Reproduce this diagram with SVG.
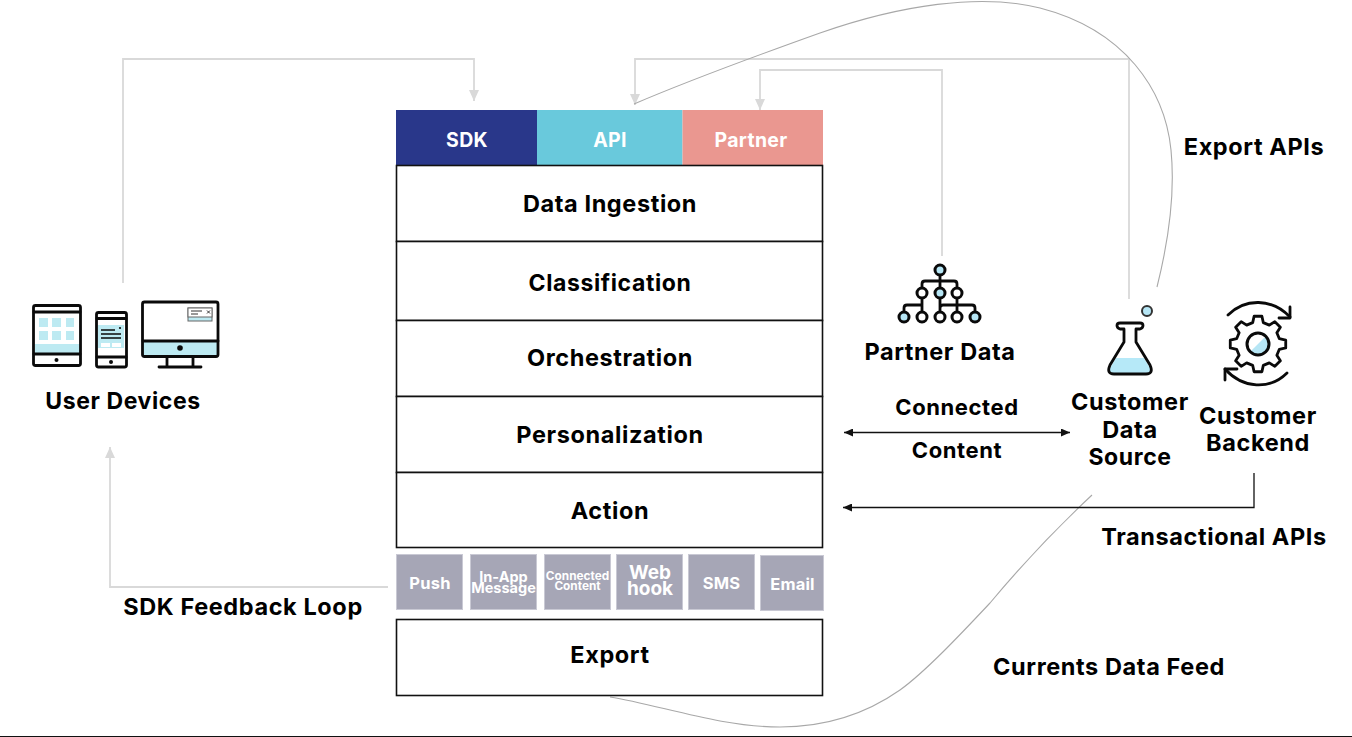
<svg xmlns="http://www.w3.org/2000/svg" width="1352" height="737" viewBox="0 0 1352 737">
<style>
text{font-family:Inter,"Liberation Sans",sans-serif;font-weight:700;text-anchor:middle;fill:#000}
.wt{fill:#fff}
.lbl{font-size:23.500px;letter-spacing:.6px}
.lbs{font-size:22px;letter-spacing:.6px}
.lbm{font-size:23px;letter-spacing:.6px}
.hd{font-size:19.500px;letter-spacing:.3px}
.sm{font-size:16.500px;letter-spacing:.2px}
.ch{fill:#a6a6b6;stroke:#c9c9d4;stroke-width:1}
.layer{fill:#fff;stroke:#111;stroke-width:1.6}
.gl{fill:none;stroke:#d9d9d9;stroke-width:1.8}
.cv{fill:none;stroke:#a8a8a8;stroke-width:1.1}
.bk{fill:none;stroke:#111;stroke-width:1.3}
.ic{fill:none;stroke:#0a0a0a;stroke-width:2.800;stroke-linejoin:round;stroke-linecap:round}
.bl{fill:#bdeaf2}
.nf{fill:#b6e6f5;stroke:#0a0a0a;stroke-width:3}
.nw{fill:#fff;stroke:#0a0a0a;stroke-width:3}
</style>
<defs>
<marker id="gb" markerUnits="userSpaceOnUse" markerWidth="12" markerHeight="10" refX="11" refY="5" orient="auto-start-reverse" viewBox="0 0 12 10"><path d="M0 0L11 5L0 10Z" fill="#d9d9d9"/></marker>
<marker id="ka" markerUnits="userSpaceOnUse" markerWidth="10" markerHeight="8" refX="9" refY="4" orient="auto-start-reverse" viewBox="0 0 10 8"><path d="M0 0L9 4L0 8Z" fill="#111"/></marker>
</defs>
<rect width="1352" height="737" fill="#fff"/>
<g id="connectors">
<path class="gl" marker-end="url(#gb)" d="M123 283V59H474V101"/>
<path class="gl" marker-end="url(#gb)" d="M1129 299V59H635V105"/>
<path class="gl" marker-end="url(#gb)" d="M942 256V70H760V110"/>
<path class="gl" marker-end="url(#gb)" d="M388 587H110V447"/>
<path class="cv" d="M1157 287C1170 235 1175 190 1171 150C1165 90 1125 30 1040 8C980 -7 900 5 820 33C750 58 690 80 634 104"/>
<path class="cv" d="M1092 495C1060 525 1030 555 990 603C960 635 925 672 900 690C860 718 820 727 780 727C720 727 660 705 610 697"/>
<path class="bk" marker-start="url(#ka)" marker-end="url(#ka)" d="M844 432.500H1070"/>
<path class="bk" marker-end="url(#ka)" d="M1254 473V507.500H843"/>
</g>
<g id="node-sdk"><rect x="396" y="110" width="141" height="55" fill="#29378a"/><text class="wt hd" x="467" y="147">SDK</text></g>
<g id="node-api"><rect x="537" y="110" width="145.500" height="55" fill="#69c9dc"/><text class="wt hd" x="610" y="147">API</text></g>
<g id="node-partner"><rect x="682.500" y="110" width="140.500" height="55" fill="#ea9790"/><text class="wt hd" x="751" y="147">Partner</text></g>
<g id="node-data-ingestion"><rect class="layer" x="396.500" y="165.500" width="426" height="76"/><text class="lbl" x="610" y="212">Data Ingestion</text></g>
<g id="node-classification"><rect class="layer" x="396.500" y="241.500" width="426" height="79"/><text class="lbm" x="610" y="291">Classification</text></g>
<g id="node-orchestration"><rect class="layer" x="396.500" y="320.500" width="426" height="76"/><text class="lbl" x="610" y="366">Orchestration</text></g>
<g id="node-personalization"><rect class="layer" x="396.500" y="396.500" width="426" height="76"/><text class="lbl" x="610" y="443">Personalization</text></g>
<g id="node-action"><rect class="layer" x="396.500" y="472.500" width="426" height="75"/><text class="lbl" x="610" y="519">Action</text></g>
<g id="node-push"><rect class="ch" x="396.500" y="554.500" width="66" height="55"/><text class="wt sm" x="430" y="589">Push</text></g>
<g id="node-inapp"><rect class="ch" x="470.500" y="554.500" width="66" height="55"/><text class="wt" font-size="14.500"><tspan x="503.500" y="582">In-App</tspan><tspan x="503.500" y="593">Message</tspan></text></g>
<g id="node-connected"><rect class="ch" x="544.500" y="554.500" width="66" height="55"/><text class="wt" font-size="11.800"><tspan x="577.500" y="580">Connected</tspan><tspan x="577.500" y="590">Content</tspan></text></g>
<g id="node-webhook"><rect class="ch" x="616.500" y="554.500" width="66" height="55"/><text class="wt" font-size="19"><tspan x="650" y="579">Web</tspan><tspan x="650" y="595">hook</tspan></text></g>
<g id="node-sms"><rect class="ch" x="688.500" y="554.500" width="66" height="55"/><text class="wt sm" x="721.500" y="589">SMS</text></g>
<g id="node-email"><rect class="ch" x="760.500" y="555.500" width="63" height="55"/><text class="wt sm" x="792.500" y="590">Email</text></g>
<g id="node-export"><rect class="layer" x="396.500" y="619.500" width="426" height="76"/><text class="lbl" x="610" y="663">Export</text></g>
<g id="node-user-devices">
<rect class="bl" x="35" y="344" width="45" height="10"/>
<rect class="bl" x="39" y="318" width="9" height="9"/><rect class="bl" x="52" y="318" width="9" height="9"/><rect class="bl" x="66" y="318" width="8" height="9"/>
<rect class="bl" x="39" y="331" width="9" height="9"/><rect class="bl" x="52" y="331" width="9" height="9"/><rect class="bl" x="66" y="331" width="8" height="9"/>
<rect class="ic" x="33.500" y="305.500" width="47" height="60" rx="2"/>
<path class="ic" d="M34 312H80M34 354H80"/>
<circle cx="56.500" cy="360" r="2" fill="#0a0a0a"/>
<rect class="bl" x="98" y="325" width="26" height="23"/>
<rect x="101" y="343" width="9" height="4" fill="#fff"/><rect x="112" y="343" width="9" height="4" fill="#fff"/>
<rect class="ic" x="96.500" y="312.500" width="30" height="54.500" rx="2"/>
<path class="ic" d="M97 318.500H126M97 357H126" stroke-width="2.200"/>
<path d="M101 330H115M101 334H121M101 338H121" stroke="#0a0a0a" stroke-width="1.600" fill="none"/>
<circle cx="120" cy="328" r="1.100" fill="#0a0a0a"/><circle cx="111" cy="362" r="2" fill="#0a0a0a"/>
<rect class="bl" x="143" y="341" width="75" height="15"/>
<rect class="ic" x="142.500" y="302" width="75.500" height="54.500" rx="2"/>
<path class="ic" d="M143 341H218M167 357V367M193 357V367M159 367H201"/>
<circle cx="180" cy="348" r="2.800" fill="#0a0a0a"/>
<rect x="188" y="308" width="24" height="13" fill="#bdeaf2" stroke="#666" stroke-width="1"/>
<rect x="188" y="308" width="24" height="9" fill="#fff" stroke="#666" stroke-width="1"/>
<path d="M191 311H202M191 314H198M207 310.500L210 313.500M210 310.500L207 313.500" stroke="#333" stroke-width="1" fill="none"/>
<text class="lbm" x="123" y="409">User Devices</text>
</g>
<g id="node-partner-data">
<path class="ic" d="M940 270V317M922 293V284Q922 281 925 281H954Q957 281 957 284V293M904 317V308Q904 305 907 305H922M922 293V317M957 293V317M940 317V308Q940 305 943 305H972Q975 305 975 308V317"/>
<circle class="nf" cx="940" cy="270" r="5"/>
<circle class="nw" cx="922" cy="293" r="5"/><circle class="nf" cx="940" cy="293" r="5"/><circle class="nw" cx="957" cy="293" r="5"/>
<circle class="nf" cx="904" cy="317" r="5"/><circle class="nw" cx="922" cy="317" r="5"/><circle class="nw" cx="940" cy="317" r="5"/><circle class="nw" cx="957" cy="317" r="5"/><circle class="nf" cx="975" cy="317" r="5"/>
<text class="lbl" x="940" y="360">Partner Data</text>
</g>
<g id="node-customer-data-source">
<circle cx="1147" cy="311" r="5" fill="#b6e6f5" stroke="#333" stroke-width="2"/>
<path d="M1116 358H1144L1150 368Q1152 373 1147 373H1113Q1108 373 1110 368Z" fill="#b6e9f8"/>
<path class="ic" d="M1124 329V342L1110 365Q1106 374 1114 374H1146Q1154 374 1150 365L1136 342V329H1140Q1143 328 1143 325.500Q1143 323 1140 323H1120Q1117 323 1117 325.500Q1117 328 1120 329Z"/>
<text class="lbl" x="1130" y="410">Customer</text><text class="lbl" x="1130" y="438">Data</text><text class="lbm" x="1130" y="465">Source</text>
</g>
<g id="node-customer-backend">
<g transform="translate(1258 344)">
<circle r="11" fill="#fff"/>
<path d="M7.800 -7.800A11 11 0 0 1 -7.800 7.800Z" fill="#b6e6f5"/>
<circle r="11" fill="none" stroke="#0a0a0a" stroke-width="3"/>
<path class="ic" d="M21.350 -5.320L27.730 -3.900L27.730 3.900L21.350 5.320L18.860 11.330L22.360 16.850L16.850 22.360L11.330 18.860L5.320 21.350L3.900 27.730L-3.900 27.730L-5.320 21.350L-11.330 18.860L-16.850 22.360L-22.360 16.850L-18.860 11.330L-21.350 5.320L-27.730 3.900L-27.730 -3.900L-21.350 -5.320L-18.860 -11.330L-22.360 -16.850L-16.850 -22.360L-11.330 -18.860L-5.320 -21.350L-3.900 -27.730L3.900 -27.730L5.320 -21.350L11.330 -18.860L16.850 -22.360L22.360 -16.850L18.860 -11.330Z"/>
</g>
<path class="ic" d="M1228 315C1245 298 1272 298 1290 317M1287 373C1270 390 1243 389 1225 369"/>
<path class="ic" d="M1290 307V318H1279M1225 380V369H1237"/>
<text class="lbl" x="1258" y="424">Customer</text><text class="lbl" x="1258" y="451">Backend</text>
</g>
<g id="labels">
<text class="lbl" x="1254" y="155">Export APIs</text>
<text class="lbs" x="957" y="415">Connected</text>
<text class="lbs" x="957" y="458">Content</text>
<text class="lbl" x="1214" y="545">Transactional APIs</text>
<text class="lbl" x="1109" y="675">Currents Data Feed</text>
<text class="lbl" x="243" y="615">SDK Feedback Loop</text>
</g>
<path d="M0 736.500H1352" stroke="#111" stroke-width="1"/>
</svg>
